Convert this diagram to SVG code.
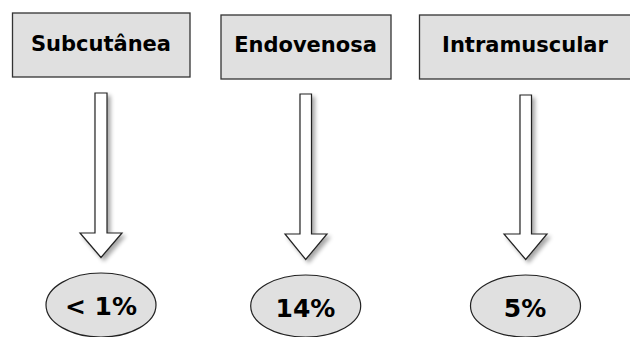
<svg xmlns="http://www.w3.org/2000/svg" width="630" height="337" viewBox="0 0 630 337">
<defs>
<filter id="sh" x="-50%" y="-10%" width="200%" height="130%">
<feGaussianBlur in="SourceAlpha" stdDeviation="2"/>
<feOffset dx="3" dy="3" result="b"/>
<feComponentTransfer><feFuncA type="linear" slope="0.35"/></feComponentTransfer>
<feMerge><feMergeNode/><feMergeNode in="SourceGraphic"/></feMerge>
</filter>
</defs>
<style>
.box{fill:#e0e0e0;stroke:#333;stroke-width:1.3}
.ell{fill:#e0e0e0;stroke:#222;stroke-width:1.2}
.arr{fill:#fff;stroke:#222;stroke-width:1.2;stroke-linejoin:miter}
.t{font-family:"DejaVu Sans",Verdana,sans-serif;font-weight:bold;font-size:21px;fill:#000;text-anchor:middle}
.p{font-family:"DejaVu Sans",Verdana,sans-serif;font-weight:bold;font-size:25px;fill:#000;text-anchor:middle}
</style>
<g id="n1"><rect class="box" x="12.5" y="13" width="177.5" height="64"/><text class="t" x="101" y="50.5">Subcutânea</text></g>
<g id="n2"><rect class="box" x="221" y="15" width="170" height="64"/><text class="t" x="305.5" y="52">Endovenosa</text></g>
<g id="n3"><rect class="box" x="419.5" y="15" width="213" height="64"/><text class="t" x="525" y="52">Intramuscular</text></g>
<g id="e1"><ellipse class="ell" cx="101" cy="305" rx="55" ry="32"/><text class="p" x="101" y="314.5">&lt; 1%</text></g>
<g id="e2"><ellipse class="ell" cx="305.7" cy="306" rx="55" ry="31"/><text class="p" x="305.5" y="316.7">14%</text></g>
<g id="e3"><ellipse class="ell" cx="525.5" cy="306" rx="55" ry="31"/><text class="p" x="525" y="316.7">5%</text></g>
<g id="connectors" filter="url(#sh)">
<path class="arr" d="M95 93 H107 V233 H122 L101 257.5 L80 233 H95 Z"/>
<path class="arr" d="M300 94 H311.5 V234 H327 L305.7 259.5 L285 234 H300 Z"/>
<path class="arr" d="M520 95 H531.5 V234 H547 L525.7 259.5 L504 234 H520 Z"/>
</g>
</svg>
